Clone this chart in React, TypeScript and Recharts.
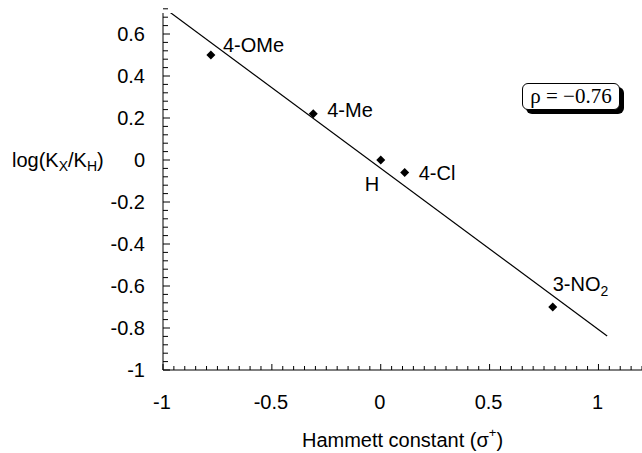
import { ScatterChart, Scatter, XAxis, YAxis, Label } from 'recharts';

// substituents and their Hammett sigma+ / log(Kx/Kh)
const substituents = ['4-OMe', '4-Me', 'H', '4-Cl', '3-NO2'];
const sigmaPlus = [-0.78, -0.31, 0, 0.11, 0.79];
const logRatio = [0.5, 0.22, 0, -0.06, -0.7];

// regression line end points
const fitX = [-0.97, 1.04];
const fitY = [0.705, -0.838];

const xMajorTicks = [-1, -0.5, 0, 0.5, 1];
const yMajorTicks = [-1, -0.8, -0.6, -0.4, -0.2, 0, 0.2, 0.4, 0.6];
const X_DOMAIN: [number, number] = [-1, 1.2];
const Y_DOMAIN: [number, number] = [-1, 0.7];
const X_MINOR_STEP = 0.05;
const Y_MINOR_STEP = 0.04;

const FONT = '"Liberation Sans", Arial, sans-serif';
const FS = 20;

// label placement relative to marker (text start, baseline)
const LABEL_OFFSETS: Record<string, { dx: number; dy: number }> = {
  '4-OMe': { dx: 12, dy: -3 },
  '4-Me': { dx: 14, dy: 3 },
  H: { dx: -16, dy: 31 },
  '4-Cl': { dx: 14, dy: 7 },
  '3-NO2': { dx: 0, dy: -16 },
};

const points = substituents.map((name, i) => ({ x: sigmaPlus[i], y: logRatio[i], name }));
const fitLine = fitX.map((x, i) => ({ x, y: fitY[i] }));

function stepTicks([lo, hi]: [number, number], step: number) {
  const out: number[] = [];
  const n = Math.round((hi - lo) / step);
  for (let i = 0; i <= n; i++) out.push(+(lo + i * step).toFixed(4));
  return out;
}

const xTicks = stepTicks(X_DOMAIN, X_MINOR_STEP);
const yTicks = stepTicks(Y_DOMAIN, Y_MINOR_STEP);

const isMajor = (v: number, majors: number[]) => majors.some(m => Math.abs(m - v) < 1e-6);

function XTick({ x, y, payload }: any) {
  const major = isMajor(payload.value, xMajorTicks);
  return (
    <g>
      <line x1={x} x2={x} y1={y} y2={y - (major ? 6 : 4)} stroke="#000" strokeWidth={1} />
      {major && (
        <text x={x - 1} y={y + 39} textAnchor="middle" fontSize={FS} fontFamily={FONT} fill="#000">
          {payload.value}
        </text>
      )}
    </g>
  );
}

function YTick({ x, y, payload }: any) {
  const major = isMajor(payload.value, yMajorTicks);
  return (
    <g>
      <line x1={x} x2={x + (major ? 7 : 5)} y1={y} y2={y} stroke="#000" strokeWidth={1} />
      {major && (
        <text x={x - 18} y={y + 7} textAnchor="end" fontSize={FS} fontFamily={FONT} fill="#000">
          {payload.value}
        </text>
      )}
    </g>
  );
}

function PointShape({ cx, cy, payload }: any) {
  const s = 4.5;
  const off = LABEL_OFFSETS[payload.name] ?? { dx: 10, dy: 0 };
  const isNitro = payload.name === '3-NO2';
  return (
    <g>
      <polygon points={`${cx},${cy - s} ${cx + s},${cy} ${cx},${cy + s} ${cx - s},${cy}`} fill="#000" />
      <text x={cx + off.dx} y={cy + off.dy} fontSize={FS} fontFamily={FONT} fill="#000">
        {isNitro ? (
          <>
            3-NO<tspan fontSize={14} dy={5}>2</tspan>
          </>
        ) : (
          payload.name
        )}
      </text>
    </g>
  );
}

export default function App() {
  return (
    <div style={{ position: 'absolute', left: 0, top: 0, width: 642, height: 453, background: '#fff' }}>
      <ScatterChart width={642} height={453} margin={{ top: 13, right: 0, bottom: 0, left: 0 }}>
        <XAxis
          type="number"
          dataKey="x"
          domain={X_DOMAIN}
          ticks={xTicks}
          interval={0}
          allowDataOverflow
          height={83}
          tickSize={0}
          tickMargin={0}
          tickLine={false}
          axisLine={{ stroke: '#000', strokeWidth: 1 }}
          tick={<XTick />}
        >
          <Label
            content={({ viewBox }: any) => (
              <text
                x={viewBox.x + viewBox.width / 2}
                y={viewBox.y + 77}
                textAnchor="middle"
                fontSize={FS}
                fontFamily={FONT}
                fill="#000"
              >
                Hammett constant (σ<tspan fontSize={13} dy={-10}>+</tspan>
                <tspan dy={10}>)</tspan>
              </text>
            )}
          />
        </XAxis>
        <YAxis
          type="number"
          dataKey="y"
          domain={Y_DOMAIN}
          ticks={yTicks}
          interval={0}
          allowDataOverflow
          width={163}
          tickSize={0}
          tickMargin={0}
          tickLine={false}
          axisLine={{ stroke: '#000', strokeWidth: 1 }}
          tick={<YTick />}
        >
          <Label
            content={({ viewBox }: any) => (
              <text x={12} y={viewBox.y + 154} fontSize={FS} fontFamily={FONT} fill="#000">
                log(K<tspan fontSize={14} dy={4}>X</tspan>
                <tspan dy={-4}>/K</tspan>
                <tspan fontSize={14} dy={4}>H</tspan>
                <tspan dy={-4}>)</tspan>
              </text>
            )}
          />
        </YAxis>
        <Scatter
          data={fitLine}
          line={{ stroke: '#000', strokeWidth: 1.2 }}
          shape={() => <g />}
          isAnimationActive={false}
        />
        <Scatter data={points} shape={<PointShape />} isAnimationActive={false} />
      </ScatterChart>
      <div
        style={{
          position: 'absolute',
          left: 522,
          top: 83,
          width: 98,
          height: 27,
          boxSizing: 'border-box',
          border: '1px solid #000',
          borderRadius: 6,
          boxShadow: '4px 4px 0 #000',
          background: '#fff',
          fontFamily: '"Liberation Serif", "Times New Roman", serif',
          fontSize: 21,
          lineHeight: '25px',
          textAlign: 'center',
          color: '#000',
        }}
      >
        ρ = −0.76
      </div>
    </div>
  );
}
